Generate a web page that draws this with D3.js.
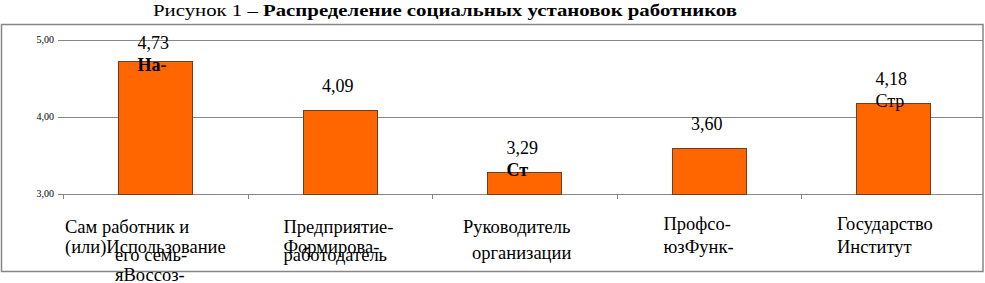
<!DOCTYPE html>
<html>
<head>
<meta charset="utf-8">
<script src="https://cdn.jsdelivr.net/npm/d3@7"></script>
<style>
  body { margin: 0; background: #fff; }
</style>
</head>
<body>
<div id="chart"></div>
<script>
// data
var categories = [
  ["Сам работник и", "(или)Использование", "его семь-", "яВоссоз-"],
  ["Предприятие-", "Формирова-", "работодатель"],
  ["Руководитель", "организации"],
  ["Профсо-", "юзФунк-"],
  ["Государство", "Институт"]
];
var values = [4.73, 4.09, 3.29, 3.60, 4.18];
var yTicks = [3, 4, 5];
// stray text fragments that sit on top of some bars
var overlapText = ["На-", "", "Ст", "", "Стр"];
var overlapBold = [true, false, true, false, false];
var titlePlain = "Рисунок 1 – ";
var titleBold = "Распределение социальных установок работников";

var width = 985, height = 283;
var margin = {top: 40, right: 0, bottom: 89, left: 63};
var serif = "'Liberation Serif', 'Times New Roman', Times, serif";

var svg = d3.select("#chart")
  .append("svg")
  .attr("width", width)
  .attr("height", height)
  .attr("font-family", serif)
  .style("font-family", serif);

// outer frame
svg.append("rect")
  .attr("x", 1.5)
  .attr("y", 24.5)
  .attr("width", 981.5)
  .attr("height", 247)
  .attr("fill", "none")
  .attr("stroke", "#868686")
  .attr("stroke-width", 1.5);

// title
var title = svg.append("text")
  .attr("x", 153)
  .attr("y", 16)
  .attr("font-family", serif)
  .style("font-size", "17px")
  .attr("textLength", 584)
  .attr("lengthAdjust", "spacingAndGlyphs");
title.append("tspan").text(titlePlain);
title.append("tspan").style("font-weight", "bold").text(titleBold);

// scales
var xScale = d3.scaleBand()
  .domain(d3.range(categories.length))
  .range([margin.left, 985.5])
  .padding(0);

var yScale = d3.scaleLinear()
  .domain([3, 5])
  .range([height - margin.bottom, margin.top]);

var gridRight = 983;

// grid lines
svg.append("g")
  .attr("class", "grid")
  .selectAll("line")
  .data(yTicks)
  .enter()
  .append("line")
  .attr("x1", margin.left)
  .attr("x2", gridRight)
  .attr("y1", d => Math.round(yScale(d)) + 0.5)
  .attr("y2", d => Math.round(yScale(d)) + 0.5)
  .attr("stroke", "#868686")
  .attr("stroke-width", 1);

// y tick marks + labels
var yAxis = svg.append("g").attr("class", "y-axis");
yAxis.selectAll("line")
  .data(yTicks)
  .enter()
  .append("line")
  .attr("x1", margin.left - 5)
  .attr("x2", margin.left)
  .attr("y1", d => Math.round(yScale(d)) + 0.5)
  .attr("y2", d => Math.round(yScale(d)) + 0.5)
  .attr("stroke", "#868686");
yAxis.selectAll("text")
  .data(yTicks)
  .enter()
  .append("text")
  .attr("x", 54)
  .attr("y", d => yScale(d) + 3)
  .attr("text-anchor", "end")
  .attr("font-family", serif)
  .style("font-size", "10px")
  .text(d => d3.format(".2f")(d).replace(".", ","));

// x tick marks at category borders
var xTicks = d3.range(categories.length + 1).map(i => margin.left + i * xScale.step());
svg.append("g")
  .attr("class", "x-axis")
  .selectAll("line")
  .data(xTicks)
  .enter()
  .append("line")
  .attr("x1", d => Math.round(d) + 0.5)
  .attr("x2", d => Math.round(d) + 0.5)
  .attr("y1", yScale(3))
  .attr("y2", yScale(3) + 5)
  .attr("stroke", "#868686");

// bars
var barW = xScale.bandwidth() * 0.4;
svg.append("g")
  .attr("class", "bars")
  .selectAll("rect")
  .data(values)
  .enter()
  .append("rect")
  .attr("x", (d, i) => Math.round(xScale(i) + xScale.bandwidth() / 2 - barW / 2) + 0.5)
  .attr("y", d => Math.round(yScale(d)) + 0.5)
  .attr("width", Math.round(barW))
  .attr("height", d => Math.round(yScale(3)) - Math.round(yScale(d)))
  .attr("fill", "#FF6600")
  .attr("stroke", "#6a3f22")
  .attr("stroke-width", 1);

// value labels (kept inside the plot area)
var labelBase = values.map(d => Math.max(yScale(d) - 18, margin.top + 9));
var valueLabels = svg.append("g")
  .attr("class", "values")
  .selectAll("text")
  .data(values)
  .enter()
  .append("text")
  .attr("x", (d, i) => xScale(i) + xScale.bandwidth() / 2 - 2)
  .attr("y", (d, i) => labelBase[i])
  .attr("text-anchor", "middle")
  .attr("font-family", serif)
  .style("font-size", "18px")
  .text(d => d3.format(".2f")(d).replace(".", ","));

// stray fragments, left-aligned with the value label
valueLabels.each(function(d, i) {
  if (!overlapText[i]) return;
  var bb = this.getBBox();
  svg.append("text")
    .attr("x", bb.x)
    .attr("y", labelBase[i] + 22)
    .attr("font-family", serif)
    .style("font-size", "18px")
    .style("font-weight", overlapBold[i] ? "bold" : "normal")
    .text(overlapText[i]);
});

// category labels, lines overlap the way they do in the source
var labelLayout = [
  [[2, 39], [2, 59], [52, 67], [52, 87]],
  [[36, 39], [36, 59], [36, 67]],
  [[31, 39], [40, 65]],
  [[47, 36], [47, 59]],
  [[36, 36], [36, 59]]
];
var catG = svg.append("g").attr("class", "categories");
categories.forEach(function(lines, i) {
  lines.forEach(function(line, j) {
    catG.append("text")
      .attr("x", xScale(i) + labelLayout[i][j][0])
      .attr("y", yScale(3) + labelLayout[i][j][1])
      .attr("font-family", serif)
      .style("font-size", "18.5px")
      .text(line);
  });
});
</script>
</body>
</html>
